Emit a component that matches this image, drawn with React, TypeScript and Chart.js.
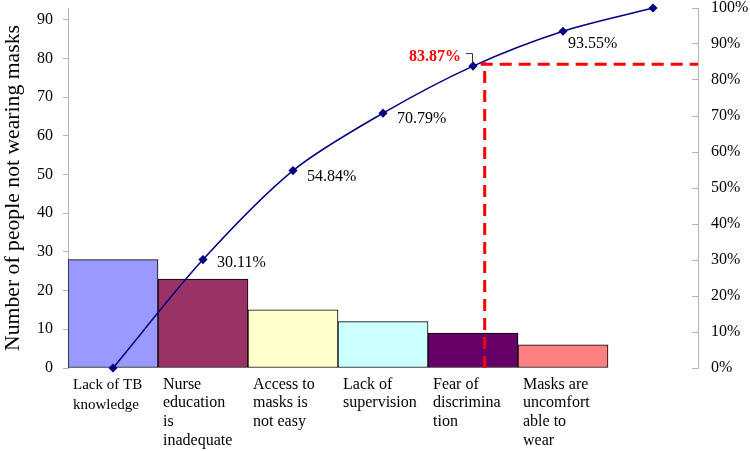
import React, { useEffect, useRef } from 'react';
import { Chart, registerables } from 'chart.js';

Chart.register(...registerables);

const FONT = '"Liberation Serif", "Times New Roman", serif';

const categories: (string[] | string)[] = [
  ['Lack of TB', 'knowledge'],
  ['Nurse', 'education', 'is', 'inadequate'],
  ['Access to', 'masks is', 'not easy'],
  ['Lack of', 'supervision'],
  ['Fear of', 'discrimina', 'tion'],
  ['Masks are', 'uncomfort', 'able to', 'wear'],
  '',
];
const counts = [28, 23, 15, 12, 9, 6];
const cumulativePct = [0, 30.11, 54.84, 70.79, 83.87, 93.55, 100];
const pctLabels = ['', '30.11%', '54.84%', '70.79%', '83.87%', '93.55%', ''];
const highlightIndex = 4;
const barColors = ['#9999FF', '#993366', '#FFFFCC', '#CCFFFF', '#660066', '#FF8080'];
const leftMax = 93;
const leftStep = 10;
const rightStep = 10;
const cutoffCategory = 4.13;
const cutoffPct = 84.4;
const yTitle = 'Number of people not wearing masks';

// label offsets (style): [dx, dy] relative to point
const labelOffsets: [number, number][] = [
  [0, 0], [14, 3], [14, 6], [14, 6], [0, 0], [5, 13], [0, 0],
];

const overlayPlugin = {
  id: 'paretoOverlay',
  afterDatasetsDraw(chart: any) {
    const ctx = chart.ctx as CanvasRenderingContext2D;
    const xs = chart.scales.x;
    const y = chart.scales.y;
    const y1 = chart.scales.y1;
    const area = chart.chartArea;
    const meta = chart.getDatasetMeta(0);

    // dashed cutoff lines
    const cx = xs.getPixelForValue(cutoffCategory);
    const cy = y1.getPixelForValue(cutoffPct);
    const bottom = y.getPixelForValue(0);
    ctx.save();
    ctx.strokeStyle = '#FF0000';
    ctx.lineWidth = 3;
    ctx.setLineDash([12, 7]);
    ctx.beginPath();
    ctx.moveTo(cx, bottom);
    ctx.lineTo(cx, cy - 2);
    ctx.stroke();
    ctx.beginPath();
    ctx.moveTo(cx - 4, cy);
    ctx.lineTo(area.right, cy);
    ctx.stroke();
    ctx.restore();

    // data labels
    ctx.save();
    ctx.textBaseline = 'middle';
    meta.data.forEach((pt: any, i: number) => {
      const text = pctLabels[i];
      if (!text) return;
      if (i === highlightIndex) {
        ctx.font = `bold 16px ${FONT}`;
        ctx.fillStyle = '#FF0000';
        ctx.textAlign = 'right';
        ctx.fillText(text, pt.x - 12, pt.y - 9);
        ctx.strokeStyle = '#333';
        ctx.lineWidth = 1;
        ctx.setLineDash([]);
        ctx.beginPath();
        ctx.moveTo(pt.x - 7, pt.y - 12.5);
        ctx.lineTo(pt.x - 0.5, pt.y - 12.5);
        ctx.lineTo(pt.x - 0.5, pt.y - 4);
        ctx.stroke();
      } else {
        const [dx, dy] = labelOffsets[i];
        ctx.font = `16px ${FONT}`;
        ctx.fillStyle = '#000';
        ctx.textAlign = 'left';
        ctx.fillText(text, pt.x + dx, pt.y + dy);
      }
    });
    ctx.restore();
  },
};

export default function App() {
  const ref = useRef<HTMLCanvasElement>(null);
  useEffect(() => {
    const chart = new Chart(ref.current as HTMLCanvasElement, {
      type: 'bar',
      data: {
        labels: categories as any,
        datasets: [
          {
            type: 'line',
            data: cumulativePct,
            yAxisID: 'y1',
            xAxisID: 'x',
            borderColor: '#000080',
            borderWidth: 1.5,
            tension: 0.3,
            pointStyle: 'rectRot',
            pointRadius: 3.5,
            pointBackgroundColor: '#000080',
            pointBorderColor: '#000080',
            clip: false as any,
            order: 0,
          } as any,
          {
            type: 'bar',
            data: counts,
            yAxisID: 'y',
            xAxisID: 'x',
            backgroundColor: barColors,
            borderColor: '#000000',
            borderWidth: 1,
            borderSkipped: false,
            barPercentage: 1,
            categoryPercentage: 1,
            order: 1,
          } as any,
        ],
      },
      options: {
        responsive: false,
        animation: false,
        devicePixelRatio: 1,
        layout: { padding: { top: 8, left: 0, right: 0, bottom: 0 } },
        plugins: {
          legend: { display: false },
          tooltip: { enabled: false },
        },
        scales: {
          x: {
            type: 'category',
            offset: true,
            grid: { display: false, drawTicks: false },
            border: { display: false },
            ticks: {
              autoSkip: false,
              maxRotation: 0,
              minRotation: 0,
              align: 'start',
              labelOffset: -40,
              padding: 7,
              color: '#000',
              font: (c: any) =>
                c.index === 0
                  ? { family: FONT, size: 15, lineHeight: 1.33 }
                  : { family: FONT, size: 16, lineHeight: 1.17 },
            },
            afterFit: (s: any) => {
              s.height = 83;
              s.paddingLeft = 0;
              s.paddingRight = 0;
            },
          } as any,
          y: {
            position: 'left',
            min: 0,
            max: leftMax,
            ticks: {
              stepSize: leftStep,
              includeBounds: false,
              color: '#000',
              font: { family: FONT, size: 16 },
              padding: 10,
            },
            grid: { drawOnChartArea: false, tickLength: 5, color: '#b4b4b4' },
            border: { color: '#b4b4b4' },
            title: {
              display: true,
              text: yTitle,
              color: '#000',
              font: { family: FONT, size: 21.7 },
              padding: 0,
            },
            afterFit: (s: any) => {
              s.width = 68;
              s.paddingTop = 0;
              s.paddingBottom = 0;
            },
          } as any,
          y1: {
            position: 'right',
            min: 0,
            max: 100,
            ticks: {
              stepSize: rightStep,
              color: '#000',
              font: { family: FONT, size: 16 },
              padding: 19,
              callback: (v: any) => `${v}%`,
            },
            grid: { drawOnChartArea: false, tickLength: -6, color: '#b4b4b4' },
            border: { color: '#b4b4b4' },
            afterFit: (s: any) => {
              s.width = 52;
              s.paddingTop = 0;
              s.paddingBottom = 0;
            },
          } as any,
        },
      },
      plugins: [overlayPlugin],
    });
    return () => chart.destroy();
  }, []);

  return (
    <div style={{ position: 'absolute', left: 0, top: 0, width: 750, height: 451, background: '#fff' }}>
      <canvas ref={ref} width={750} height={451} style={{ display: 'block', width: 750, height: 451 }} />
    </div>
  );
}
